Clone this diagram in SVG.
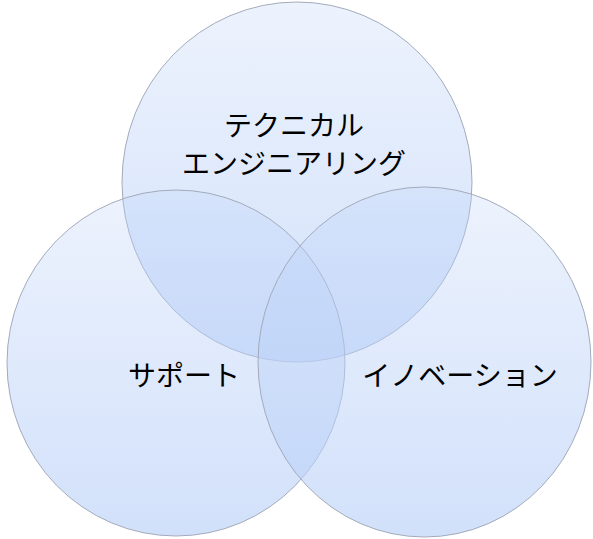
<svg xmlns="http://www.w3.org/2000/svg" width="593" height="539" viewBox="0 0 593 539">
<style>
.c{stroke:#a3abbb;stroke-width:1;fill:url(#g)}
.t{font-family:"Noto Sans CJK JP","Noto Sans CJK SC",sans-serif;font-size:28px;fill:#000;text-anchor:middle}
</style>
<defs>
<linearGradient id="g" x1="0" y1="0" x2="0" y2="1">
<stop offset="0" stop-color="#bcd2f8" stop-opacity="0.27"/>
<stop offset="1" stop-color="#bcd2f8" stop-opacity="0.68"/>
</linearGradient>
</defs>
<rect width="593" height="539" fill="#fff"/>
<g id="top"><ellipse class="c" cx="297" cy="182" rx="175" ry="180"/></g>
<g id="left"><ellipse class="c" cx="176" cy="363" rx="169" ry="173"/></g>
<g id="right"><ellipse class="c" cx="424.5" cy="362" rx="166.5" ry="175"/></g>
<g id="labels">
<text class="t" x="294" y="136">テクニカル</text>
<text class="t" x="294" y="174">エンジニアリング</text>
<text class="t" x="184" y="386">サポート</text>
<text class="t" x="460" y="386">イノベーション</text>
</g>
</svg>
